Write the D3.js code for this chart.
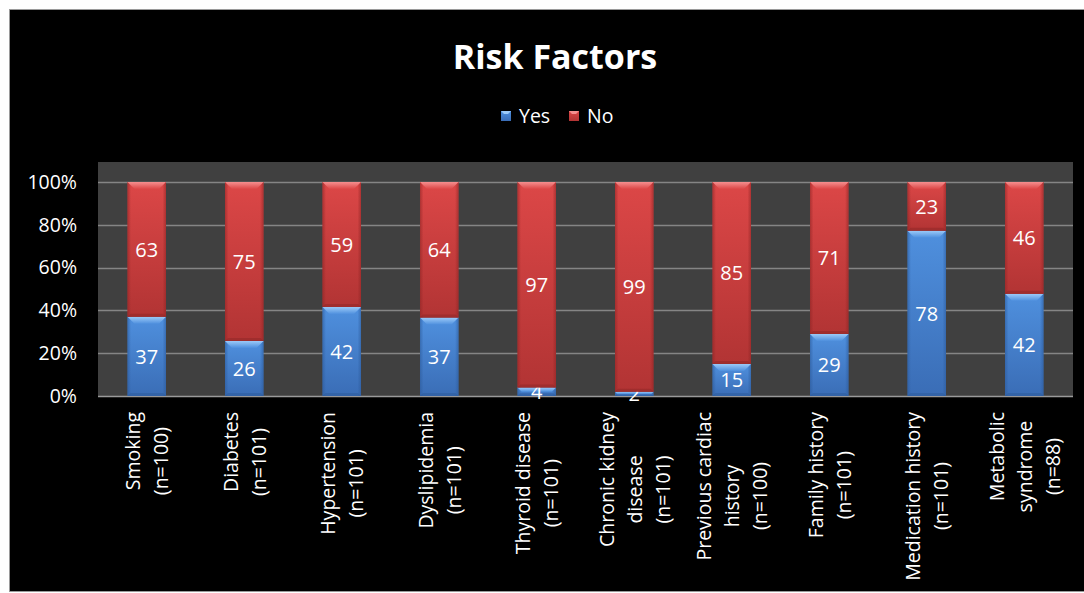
<!DOCTYPE html>
<html>
<head>
<meta charset="utf-8">
<script src="https://cdn.jsdelivr.net/npm/d3@7"></script>
<style>
  html, body { margin: 0; padding: 0; background: #ffffff; }
  svg { display: block; font-family: "Open Sans", "DejaVu Sans", sans-serif; }
</style>
</head>
<body>
<svg id="chart" width="1084" height="593"></svg>
<script>
// Risk factor counts per category (Yes / No), drawn as 100% stacked columns
const categoryLines = [
  ["Smoking", "(n=100)"],
  ["Diabetes", "(n=101)"],
  ["Hypertension", "(n=101)"],
  ["Dyslipidemia", "(n=101)"],
  ["Thyroid disease", "(n=101)"],
  ["Chronic kidney", "disease", "(n=101)"],
  ["Previous cardiac", "history", "(n=100)"],
  ["Family history", "(n=101)"],
  ["Medication history", "(n=101)"],
  ["Metabolic", "syndrome", "(n=88)"]
];
const yesValues = [37, 26, 42, 37, 4, 2, 15, 29, 78, 42];
const noValues  = [63, 75, 59, 64, 97, 99, 85, 71, 23, 46];
const seriesNames = ["Yes", "No"];
const yTickValues = [0, 0.2, 0.4, 0.6, 0.8, 1];

const W = 1084, H = 593;
const plot = { left: 98, right: 1073, top: 162, bottom: 396 };

const svg = d3.select("#chart");

const palette = {
  Yes: { top: "#4f90de", bottom: "#3a6db6", bevel: "#9ccaf8", edge: "#2c5a9a" },
  No:  { top: "#dc4747", bottom: "#b23434", bevel: "#f58f8f", edge: "#8e2525" }
};

// gradients
const defs = svg.append("defs");
seriesNames.forEach(s => {
  const g = defs.append("linearGradient").attr("id", "body-" + s)
    .attr("x1", 0).attr("y1", 0).attr("x2", 0).attr("y2", 1);
  g.append("stop").attr("offset", "0%").attr("stop-color", palette[s].top);
  g.append("stop").attr("offset", "100%").attr("stop-color", palette[s].bottom);
  const b = defs.append("linearGradient").attr("id", "bevel-" + s)
    .attr("x1", 0).attr("y1", 0).attr("x2", 0).attr("y2", 1);
  b.append("stop").attr("offset", "0%").attr("stop-color", palette[s].bevel);
  b.append("stop").attr("offset", "100%").attr("stop-color", palette[s].top);
  const e = defs.append("linearGradient").attr("id", "sides-" + s)
    .attr("x1", 0).attr("y1", 0).attr("x2", 1).attr("y2", 0);
  e.append("stop").attr("offset", "0%").attr("stop-color", palette[s].edge).attr("stop-opacity", 0.6);
  e.append("stop").attr("offset", "9%").attr("stop-color", palette[s].edge).attr("stop-opacity", 0);
  e.append("stop").attr("offset", "91%").attr("stop-color", palette[s].edge).attr("stop-opacity", 0);
  e.append("stop").attr("offset", "100%").attr("stop-color", palette[s].edge).attr("stop-opacity", 0.6);
});

// chart background
svg.append("rect").attr("x", 9.5).attr("y", 9.5).attr("width", W - 9).attr("height", 582)
  .attr("fill", "#000000").attr("stroke", "#9a9a9a").attr("stroke-width", 1);

// plot area
svg.append("rect").attr("x", plot.left).attr("y", plot.top)
  .attr("width", plot.right - plot.left).attr("height", plot.bottom - plot.top)
  .attr("fill", "#404040");

const x = d3.scaleBand()
  .domain(d3.range(categoryLines.length))
  .range([plot.left, plot.right])
  .paddingInner(0.605)
  .paddingOuter(0.3025);

const y = d3.scaleLinear().domain([0, 1]).range([396, 182]);

// gridlines
svg.append("g")
  .selectAll("line").data(yTickValues).join("line")
  .attr("x1", plot.left).attr("x2", plot.right)
  .attr("y1", d => Math.round(y(d)) + 0.5).attr("y2", d => Math.round(y(d)) + 0.5)
  .attr("stroke", d => d === 0 ? "#9a9a9a" : "#858585").attr("stroke-width", 1.5);

// y axis labels
const yAxis = d3.axisLeft(y).tickValues(yTickValues).tickFormat(d3.format(".0%")).tickSize(0).tickPadding(0);
const yAxisG = svg.append("g").attr("transform", "translate(77,0)").call(yAxis);
yAxisG.select(".domain").remove();
yAxisG.selectAll("text").attr("fill", "#ffffff").style("font-size", "19.5px")
  .style("font-family", "'Open Sans', sans-serif");

// stacked data
const rows = categoryLines.map((c, i) => ({ idx: i, Yes: yesValues[i], No: noValues[i] }));
const stacked = d3.stack().keys(seriesNames).offset(d3.stackOffsetExpand)(rows);

const bw = x.bandwidth();
const series = svg.append("g").selectAll("g").data(stacked).join("g");

series.each(function (layer) {
  const s = layer.key;
  const g = d3.select(this);
  layer.forEach(d => {
    const x0 = x(d.data.idx);
    const yTop = y(d[1]), yBot = y(d[0]);
    const h = yBot - yTop;
    const seg = g.append("g");
    seg.append("rect").attr("x", x0).attr("y", yTop).attr("width", bw).attr("height", h)
      .attr("fill", `url(#body-${s})`);
    seg.append("rect").attr("x", x0).attr("y", yTop).attr("width", bw).attr("height", h)
      .attr("fill", `url(#sides-${s})`);
    // bevelled top edge
    const b = Math.min(7, h / 2);
    seg.append("polygon")
      .attr("points", [[x0, yTop], [x0 + bw, yTop], [x0 + bw - b, yTop + b], [x0 + b, yTop + b]].join(" "))
      .attr("fill", `url(#bevel-${s})`);
    const bb = Math.min(3, h / 3);
    seg.append("polygon")
      .attr("points", [[x0 + bb, yBot - bb], [x0 + bw - bb, yBot - bb], [x0 + bw, yBot], [x0, yBot]].join(" "))
      .attr("fill", palette[s].edge).attr("opacity", 0.5);
    // value label
    g.append("text")
      .attr("x", x0 + bw / 2).attr("y", (yTop + yBot) / 2)
      .attr("dy", "0.36em")
      .attr("text-anchor", "middle")
      .attr("fill", "#ffffff")
      .style("font-size", "20px")
      .text(d.data[s]);
  });
});

// category labels, rotated, lines stacked side by side
const lh = 28;
const catG = svg.append("g").selectAll("g").data(categoryLines).join("g")
  .attr("transform", (d, i) => `translate(${x(i) + bw / 2 + 2},412) rotate(-90)`);
catG.each(function (lines) {
  const g = d3.select(this);
  const n = lines.length;
  const t0 = g.append("text").attr("text-anchor", "end").attr("x", 0)
    .attr("y", (0 - (n - 1) / 2) * lh + 5.5)
    .attr("fill", "#ffffff").style("font-size", "19.5px").text(lines[0]);
  const w0 = t0.node().getComputedTextLength();
  const centre = -Math.min(w0 / 2 + 10, 84);
  lines.slice(1).forEach((t, j) => {
    g.append("text").attr("text-anchor", "middle").attr("x", centre)
      .attr("y", (j + 1 - (n - 1) / 2) * lh + 5.5)
      .attr("fill", "#ffffff").style("font-size", "19.5px").text(t);
  });
});

// title
svg.append("text").attr("x", 555).attr("y", 69).attr("text-anchor", "middle")
  .attr("fill", "#ffffff").style("font-size", "34px").style("font-weight", "bold")
  .text("Risk Factors");

// legend
const legend = svg.append("g");
const legendX = [501, 569];
seriesNames.forEach((s, i) => {
  const lg = legend.append("g").attr("transform", `translate(${legendX[i]},111)`);
  lg.append("rect").attr("width", 10).attr("height", 10).attr("fill", `url(#body-${s})`);
  lg.append("polygon").attr("points", "0,0 10,0 7,3 3,3").attr("fill", palette[s].bevel);
  lg.append("text").attr("x", 18).attr("y", 5).attr("dy", "0.36em")
    .attr("fill", "#ffffff").style("font-size", "19.5px").text(s);
});
</script>
</body>
</html>
